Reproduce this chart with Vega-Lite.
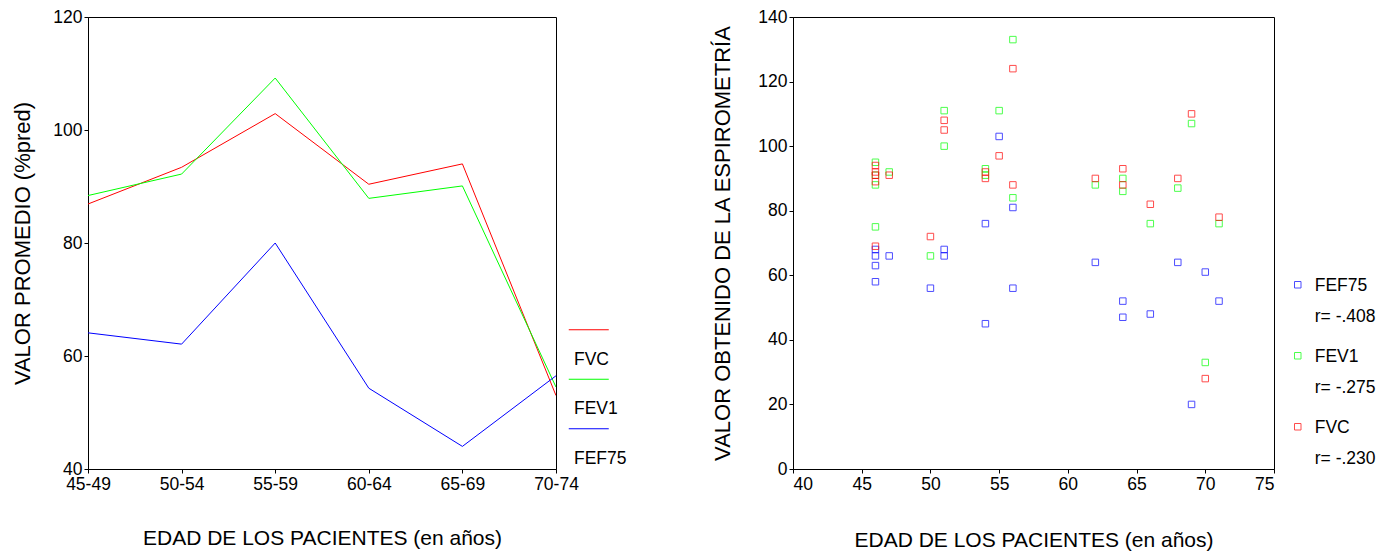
{
  "$schema": "https://vega.github.io/schema/vega-lite/v6.json",
  "background": "white",
  "padding": {"left": 11, "top": 7, "right": 5, "bottom": 5},
  "spacing": 83,
  "config": {
    "font": "Liberation Sans",
    "view": {"stroke": "#000000", "strokeWidth": 1},
    "axis": {
      "grid": false,
      "domainColor": "#000000",
      "tickColor": "#000000",
      "tickSize": 4,
      "labelPadding": 2,
      "labelFontSize": 17.5,
      "labelColor": "#000000",
      "titleFontSize": 21,
      "titleFontWeight": "normal",
      "titleColor": "#000000"
    },
    "axisY": {"titleFontSize": 22},
    "legend": {
      "title": null,
      "labelFontSize": 17.5,
      "labelColor": "#000000",
      "labelFont": "Liberation Sans"
    },
    "style": {"guide-label": {"lineHeight": 31}}
  },
  "datasets": {
    "promedios": [
      {"grupo": "45-49", "var": "FVC", "valor": 86.9},
      {"grupo": "50-54", "var": "FVC", "valor": 93.4},
      {"grupo": "55-59", "var": "FVC", "valor": 102.9},
      {"grupo": "60-64", "var": "FVC", "valor": 90.4},
      {"grupo": "65-69", "var": "FVC", "valor": 94.0},
      {"grupo": "70-74", "var": "FVC", "valor": 53.0},
      {"grupo": "45-49", "var": "FEV1", "valor": 88.4},
      {"grupo": "50-54", "var": "FEV1", "valor": 92.2},
      {"grupo": "55-59", "var": "FEV1", "valor": 109.2},
      {"grupo": "60-64", "var": "FEV1", "valor": 87.9},
      {"grupo": "65-69", "var": "FEV1", "valor": 90.1},
      {"grupo": "70-74", "var": "FEV1", "valor": 54.5},
      {"grupo": "45-49", "var": "FEF75", "valor": 64.1},
      {"grupo": "50-54", "var": "FEF75", "valor": 62.1},
      {"grupo": "55-59", "var": "FEF75", "valor": 80.0},
      {"grupo": "60-64", "var": "FEF75", "valor": 54.3},
      {"grupo": "65-69", "var": "FEF75", "valor": 44.0},
      {"grupo": "70-74", "var": "FEF75", "valor": 56.5}
    ],
    "pacientes": [
      {"edad": 46, "var": "FEF75", "valor": 68},
      {"edad": 46, "var": "FEF75", "valor": 66},
      {"edad": 46, "var": "FEF75", "valor": 63},
      {"edad": 46, "var": "FEF75", "valor": 58},
      {"edad": 46, "var": "FEV1", "valor": 95},
      {"edad": 46, "var": "FEV1", "valor": 91},
      {"edad": 46, "var": "FEV1", "valor": 88},
      {"edad": 46, "var": "FEV1", "valor": 75},
      {"edad": 46, "var": "FVC", "valor": 94},
      {"edad": 46, "var": "FVC", "valor": 92},
      {"edad": 46, "var": "FVC", "valor": 91},
      {"edad": 46, "var": "FVC", "valor": 89},
      {"edad": 46, "var": "FVC", "valor": 69},
      {"edad": 47, "var": "FEF75", "valor": 66},
      {"edad": 47, "var": "FEV1", "valor": 92},
      {"edad": 47, "var": "FVC", "valor": 91},
      {"edad": 50, "var": "FEF75", "valor": 56},
      {"edad": 50, "var": "FEV1", "valor": 66},
      {"edad": 50, "var": "FVC", "valor": 72},
      {"edad": 51, "var": "FEF75", "valor": 68},
      {"edad": 51, "var": "FEF75", "valor": 66},
      {"edad": 51, "var": "FEV1", "valor": 111},
      {"edad": 51, "var": "FEV1", "valor": 100},
      {"edad": 51, "var": "FVC", "valor": 108},
      {"edad": 51, "var": "FVC", "valor": 105},
      {"edad": 54, "var": "FEF75", "valor": 76},
      {"edad": 54, "var": "FEF75", "valor": 45},
      {"edad": 54, "var": "FEV1", "valor": 93},
      {"edad": 54, "var": "FEV1", "valor": 91},
      {"edad": 54, "var": "FVC", "valor": 92},
      {"edad": 54, "var": "FVC", "valor": 90},
      {"edad": 55, "var": "FEF75", "valor": 103},
      {"edad": 55, "var": "FEV1", "valor": 111},
      {"edad": 55, "var": "FVC", "valor": 97},
      {"edad": 56, "var": "FEF75", "valor": 81},
      {"edad": 56, "var": "FEF75", "valor": 56},
      {"edad": 56, "var": "FEV1", "valor": 133},
      {"edad": 56, "var": "FEV1", "valor": 84},
      {"edad": 56, "var": "FVC", "valor": 124},
      {"edad": 56, "var": "FVC", "valor": 88},
      {"edad": 62, "var": "FEF75", "valor": 64},
      {"edad": 62, "var": "FEV1", "valor": 88},
      {"edad": 62, "var": "FVC", "valor": 90},
      {"edad": 64, "var": "FEF75", "valor": 52},
      {"edad": 64, "var": "FEF75", "valor": 47},
      {"edad": 64, "var": "FEV1", "valor": 90},
      {"edad": 64, "var": "FEV1", "valor": 86},
      {"edad": 64, "var": "FVC", "valor": 93},
      {"edad": 64, "var": "FVC", "valor": 88},
      {"edad": 66, "var": "FEF75", "valor": 48},
      {"edad": 66, "var": "FEV1", "valor": 76},
      {"edad": 66, "var": "FVC", "valor": 82},
      {"edad": 68, "var": "FEF75", "valor": 64},
      {"edad": 68, "var": "FEV1", "valor": 87},
      {"edad": 68, "var": "FVC", "valor": 90},
      {"edad": 69, "var": "FEF75", "valor": 20},
      {"edad": 69, "var": "FEV1", "valor": 107},
      {"edad": 69, "var": "FVC", "valor": 110},
      {"edad": 70, "var": "FEF75", "valor": 61},
      {"edad": 70, "var": "FEV1", "valor": 33},
      {"edad": 70, "var": "FVC", "valor": 28},
      {"edad": 71, "var": "FEF75", "valor": 52},
      {"edad": 71, "var": "FEV1", "valor": 76},
      {"edad": 71, "var": "FVC", "valor": 78}
    ]
  },
  "hconcat": [
    {
      "width": 468,
      "height": 452,
      "data": {"name": "promedios"},
      "mark": {"type": "line", "strokeWidth": 1, "clip": true},
      "encoding": {
        "x": {
          "field": "grupo",
          "type": "ordinal",
          "scale": {"type": "point", "padding": 0},
          "axis": {
            "title": "EDAD DE LOS PACIENTES (en años)",
            "labelAngle": 0,
            "titlePadding": 35
          }
        },
        "y": {
          "field": "valor",
          "type": "quantitative",
          "scale": {"domain": [40, 120], "nice": false, "zero": false},
          "axis": {
            "title": "VALOR PROMEDIO (%pred)",
            "values": [40, 60, 80, 100, 120],
            "titlePadding": 18
          }
        },
        "color": {
          "field": "var",
          "type": "nominal",
          "scale": {
            "domain": ["FVC", "FEV1", "FEF75"],
            "range": ["#ff0000", "#00ff00", "#0000ff"]
          },
          "legend": {
            "orient": "none",
            "legendX": 492,
            "legendY": 304,
            "symbolType": "M-20,0H20",
            "symbolSize": 4,
            "symbolStrokeWidth": 1,
            "labelOffset": 0,
            "rowPadding": 1.5,
            "encode": {
              "labels": {"update": {"dx": {"value": -23.5}, "dy": {"value": 30}, "lineHeight": {"value": 18}}}
            }
          }
        }
      }
    },
    {
      "width": 481,
      "height": 452,
      "data": {"name": "pacientes"},
      "mark": {"type": "point", "shape": "square", "filled": false, "size": 42, "strokeWidth": 1},
      "encoding": {
        "x": {
          "field": "edad",
          "type": "quantitative",
          "scale": {"domain": [40, 75], "nice": false, "zero": false},
          "axis": {
            "title": "EDAD DE LOS PACIENTES (en años)",
            "values": [40, 45, 50, 55, 60, 65, 70, 75],
            "titlePadding": 37
          }
        },
        "y": {
          "field": "valor",
          "type": "quantitative",
          "scale": {"domain": [0, 140], "nice": false},
          "axis": {
            "title": "VALOR OBTENIDO DE LA ESPIROMETRÍA",
            "values": [0, 20, 40, 60, 80, 100, 120, 140],
            "titlePadding": 23
          }
        },
        "stroke": {
          "field": "var",
          "type": "nominal",
          "scale": {
            "domain": ["FEF75", "FEV1", "FVC"],
            "range": ["#0000ff", "#00ff00", "#ff0000"]
          },
          "legend": {
            "orient": "none",
            "legendX": 496,
            "legendY": 251,
            "symbolType": "M-3.25,4.75H3.25V11.25H-3.25Z",
            "symbolSize": 4,
            "symbolFillColor": "transparent",
            "symbolStrokeWidth": 1,
            "labelOffset": 8.25,
            "rowPadding": 13,
            "labelBaseline": "top",
            "labelExpr": "datum.label == 'FEF75' ? ['FEF75', 'r= -.408'] : datum.label == 'FEV1' ? ['FEV1', 'r= -.275'] : ['FVC', 'r= -.230']"
          }
        }
      }
    }
  ],
  "resolve": {"scale": {"color": "independent", "stroke": "independent"}, "legend": {"color": "independent", "stroke": "independent"}}
}
